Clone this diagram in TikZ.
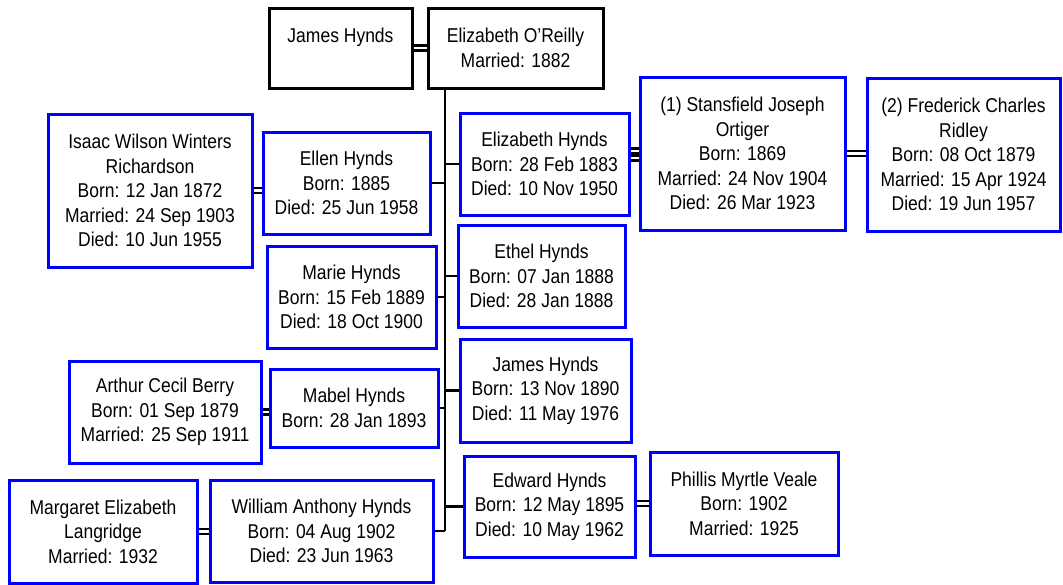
\documentclass[tikz,border=0pt]{standalone}
\usepackage{fontspec}
\setmainfont{Liberation Sans}[FakeStretch=0.875]
\usepackage{xcolor}
\usepackage{tikz}
\usetikzlibrary{calc,positioning}
\definecolor{boxc}{HTML}{0000FF}
\tikzset{
  pers/.style={draw=boxc,line width=3pt,fill=white,align=center,inner sep=0pt,
    font=\fontsize{20}{24.5}\selectfont},
  root/.style={pers,draw=black},
  sz/.style 2 args={minimum width=#1pt,minimum height=#2pt},
  link/.style={line width=2.8pt,black},
  wed/.style={double,double distance=2.6pt,line width=2.4pt,black}
}

\begin{document}
\begin{tikzpicture}[x=1pt,y=-1pt]
\useasboundingbox (0,0) rectangle (1063,584);
% parents
\node[root,sz={143}{80}] (jhynds) at (340.5,48) {James Hynds\\~};
\node[root,sz={175}{80}] (eoreilly) at (515.5,48) {Elizabeth O'Reilly\\Married: 1882};
\coordinate (trunktop) at (445,88);
\coordinate (trunkend) at (445,531);
% children right of the trunk
\node[pers,sz={169}{102}] (ehynds) at (544.5,164) {Elizabeth Hynds\\Born: 28 Feb 1883\\Died: 10 Nov 1950};
\node[pers,sz={167}{102}] (ethel) at (541.5,276) {Ethel Hynds\\Born: 07 Jan 1888\\Died: 28 Jan 1888};
\node[pers,sz={171}{103}] (jameschild) at (545.5,390.5) {James Hynds\\Born: 13 Nov 1890\\Died: 11 May 1976};
\node[pers,sz={171}{101}] (edward) at (549.5,506.5) {Edward Hynds\\Born: 12 May 1895\\Died: 10 May 1962};
% children left of the trunk
\node[pers,sz={167}{102}] (ellen) at (346.5,183) {Ellen Hynds\\Born: 1885\\Died: 25 Jun 1958};
\node[pers,sz={169}{102}] (marie) at (351.5,297) {Marie Hynds\\Born: 15 Feb 1889\\Died: 18 Oct 1900};
\node[pers,sz={168}{78}] (mabel) at (354,408) {Mabel Hynds\\Born: 28 Jan 1893};
\node[pers,sz={223}{102}] (william) at (321.5,531) {William Anthony Hynds\\Born: 04 Aug 1902\\Died: 23 Jun 1963};
% spouses
\node[pers,sz={205}{153}] (stansfield) at (742.5,153.5) {(1) Stansfield Joseph\\Ortiger\\Born: 1869\\Married: 24 Nov 1904\\Died: 26 Mar 1923};
\node[pers,sz={193}{153}] (frederick) at (963.5,154.5) {(2) Frederick Charles\\Ridley\\Born: 08 Oct 1879\\Married: 15 Apr 1924\\Died: 19 Jun 1957};
\node[pers,sz={204}{153}] (isaac) at (150,190.5) {Isaac Wilson Winters\\Richardson\\Born: 12 Jan 1872\\Married: 24 Sep 1903\\Died: 10 Jun 1955};
\node[pers,sz={192}{102}] (arthur) at (165,412) {Arthur Cecil Berry\\Born: 01 Sep 1879\\Married: 25 Sep 1911};
\node[pers,sz={188}{103}] (phillis) at (744,503.5) {Phillis Myrtle Veale\\Born: 1902\\Married: 1925};
\node[pers,sz={188}{103}] (margaret) at (103,531.5) {Margaret Elizabeth\\Langridge\\Married: 1932};
% descent lines
\draw[link] (trunktop) -- (trunkend);
\foreach \k in {ehynds,ethel,jameschild,edward}{\draw[link] (\k.west) -- (\k.west -| trunktop);}
\foreach \k in {ellen,marie,mabel,william}{\draw[link] (\k.east) -- (\k.east -| trunktop);}
% marriages
\draw[wed] (jhynds.east) -- (eoreilly.west);
\draw[wed] ([yshift=13pt]ehynds.east) -- ([yshift=13pt]ehynds.east -| stansfield.west);
\draw[wed] ([yshift=6pt]ehynds.east) -- ([yshift=6pt]ehynds.east -| stansfield.west);
\draw[wed] (stansfield.east) -- (stansfield.east -| frederick.west);
\draw[wed] (isaac.east) -- (isaac.east -| ellen.west);
\draw[wed] (arthur.east) -- (arthur.east -| mabel.west);
\draw[wed] (phillis.west) -- (phillis.west -| edward.east);
\draw[wed] (margaret.east) -- (margaret.east -| william.west);
\end{tikzpicture}
\end{document}
